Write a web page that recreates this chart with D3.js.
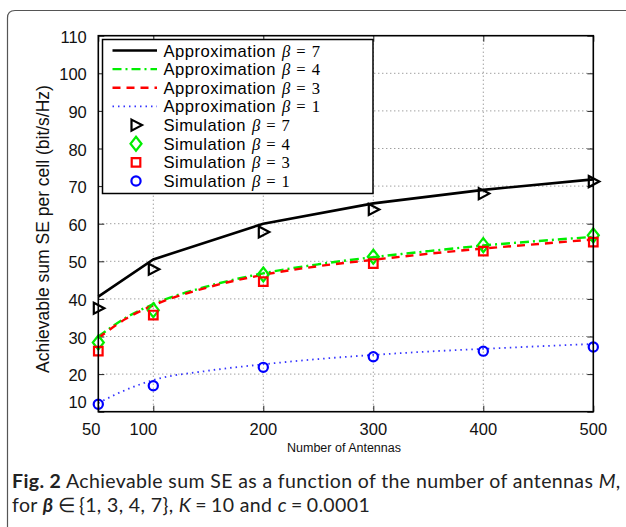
<!DOCTYPE html>
<html>
<head>
<meta charset="utf-8">
<script src="https://cdn.jsdelivr.net/npm/d3@7"></script>
<style>
  body { margin: 0; background: #fff; }
  svg { display: block; }
</style>
</head>
<body>
<svg id="chart" width="626" height="527"></svg>
<script>
// Number of base-station antennas M
const antennas = [50, 100, 200, 300, 400, 500];
const curveAntennas = [50, 75, 100, 150, 200, 250, 300, 350, 400, 450, 500];

// Closed-form approximation of the achievable sum SE per cell (bit/s/Hz)
const approxBeta7 = [40.6, 50.5, 60.0, 65.4, 69.0, 71.8];
const approxBeta4 = [30.0, 35.0, 38.6, 43.4, 46.8, 49.2, 51.1, 52.7, 54.2, 55.4, 56.5];
const approxBeta3 = [29.6, 34.7, 38.3, 43.1, 46.4, 48.7, 50.4, 52.0, 53.4, 54.6, 55.8];
const approxBeta1 = [12.3, 15.8, 18.4, 20.9, 22.6, 24.0, 25.1, 26.0, 26.7, 27.4, 28.0];

// Monte-Carlo simulation results
const simBeta7 = [37.5, 47.9, 57.8, 63.8, 68.0, 71.2];
const simBeta4 = [28.4, 37.0, 46.5, 51.2, 54.3, 56.9];
const simBeta3 = [26.1, 35.7, 44.6, 49.4, 52.7, 55.1];
const simBeta1 = [12.0, 16.9, 21.8, 24.6, 26.1, 27.2];

const xTicks = [50, 100, 200, 300, 400, 500];
const yTicks = [10, 20, 30, 40, 50, 60, 70, 80, 90, 100, 110];

const approxLabels = ["7", "4", "3", "1"];
const simLabels = ["7", "4", "3", "1"];

const svg = d3.select("#chart");

// Outer figure frame with a rounded top-left corner
svg.append("path")
  .attr("d", "M7.5,527 L7.5,18 Q7.5,10.5 15,10.5 L626,10.5")
  .attr("fill", "none").attr("stroke", "#555").attr("stroke-width", 1.2);

const pLeft = 98.3, pRight = 593.3, pTop = 35.7, pBottom = 411.7;
const x = d3.scaleLinear().domain([50, 500]).range([pLeft, pRight]);
const y = d3.scaleLinear().domain([10, 110]).range([pBottom, pTop]);

const tickFont = "'Liberation Sans', Arial, sans-serif";
const mathFont = "'Liberation Serif', 'DejaVu Serif', serif";

// Dotted grid
const grid = svg.append("g").attr("stroke", "#777").attr("stroke-width", 1)
  .attr("stroke-dasharray", "1,3");
grid.selectAll(".gx").data(xTicks.slice(1, -1)).join("line")
  .attr("x1", d => x(d)).attr("x2", d => x(d)).attr("y1", pTop).attr("y2", pBottom);
grid.selectAll(".gy").data(yTicks.slice(1, -1)).join("line")
  .attr("y1", d => y(d)).attr("y2", d => y(d)).attr("x1", pLeft).attr("x2", pRight);

// Axes: ticks point inward, mirrored on the opposite sides
const xAxisB = d3.axisBottom(x).tickValues(xTicks).tickSizeInner(-6).tickSizeOuter(0).tickFormat("");
const xAxisT = d3.axisTop(x).tickValues(xTicks).tickSizeInner(-6).tickSizeOuter(0).tickFormat("");
const yAxisL = d3.axisLeft(y).tickValues(yTicks).tickSizeInner(-6).tickSizeOuter(0).tickFormat("");
const yAxisR = d3.axisRight(y).tickValues(yTicks).tickSizeInner(-6).tickSizeOuter(0).tickFormat("");
[
  [xAxisB, `translate(0,${pBottom})`],
  [xAxisT, `translate(0,${pTop})`],
  [yAxisL, `translate(${pLeft},0)`],
  [yAxisR, `translate(${pRight},0)`]
].forEach(([ax, tr]) => {
  const g = svg.append("g").attr("transform", tr).call(ax);
  g.select(".domain").remove();
  g.selectAll(".tick line").attr("stroke", "#222").attr("stroke-width", 1);
});

// Tick labels (the corner labels are pushed apart slightly)
const xNudge = {50: -7, 100: -10};
svg.append("g").selectAll("text").data(xTicks).join("text")
  .attr("x", d => x(d) + (xNudge[d] || 0)).attr("y", pBottom + 23)
  .attr("text-anchor", "middle")
  .attr("font-family", tickFont).attr("font-size", 16.5).attr("fill", "#111")
  .text(d => d);
svg.append("g").selectAll("text").data(yTicks).join("text")
  .attr("x", pLeft - 11.5).attr("y", d => y(d) + (d === yTicks[0] ? -3.5 : 7))
  .attr("text-anchor", "end")
  .attr("font-family", tickFont).attr("font-size", 16.5).attr("fill", "#111")
  .text(d => d);

// Axis titles
svg.append("text")
  .attr("x", 344).attr("y", 452).attr("text-anchor", "middle")
  .attr("font-family", tickFont).attr("font-size", 12.5).attr("fill", "#111")
  .text("Number of Antennas");
svg.append("text")
  .attr("transform", "translate(49,229) rotate(-90)").attr("text-anchor", "middle")
  .attr("font-family", tickFont).attr("font-size", 17.5).attr("fill", "#111")
  .text("Achievable sum SE per cell (bit/s/Hz)");

// Approximation curves
const line = (xs, ys, curve) => d3.line()
  .x((d, i) => x(xs[i])).y(d => y(d)).curve(curve)(ys);

const approxStyles = [
  {data: approxBeta7, xs: antennas, color: "#000", dash: null, w: 2.6, curve: d3.curveLinear},
  {data: approxBeta4, xs: curveAntennas, color: "#00ee00", dash: "9,4,2,4", w: 2.4, curve: d3.curveMonotoneX},
  {data: approxBeta3, xs: curveAntennas, color: "#ff0000", dash: "8,6", w: 2.4, curve: d3.curveMonotoneX},
  {data: approxBeta1, xs: curveAntennas, color: "#3333ff", dash: "1.5,4", w: 1.8, curve: d3.curveMonotoneX}
];
approxStyles.forEach(s => {
  svg.append("path").attr("d", line(s.xs, s.data, s.curve))
    .attr("fill", "none").attr("stroke", s.color).attr("stroke-width", s.w)
    .attr("stroke-dasharray", s.dash);
});

// Marker shapes
const markerPath = {
  tri: "M-4.5,-5.5 L6,0 L-4.5,5.5 Z",
  diamond: "M0,-7 L5.5,0 L0,7 L-5.5,0 Z",
  square: "M-4.3,-4.3 H4.3 V4.3 H-4.3 Z"
};
function drawMarker(g, kind, color, cx, cy) {
  if (kind === "circle") {
    g.append("circle").attr("cx", cx).attr("cy", cy).attr("r", 4.6)
      .attr("fill", "none").attr("stroke", color).attr("stroke-width", 2.2);
  } else {
    g.append("path").attr("d", markerPath[kind])
      .attr("transform", `translate(${cx},${cy})`)
      .attr("fill", "none").attr("stroke", color).attr("stroke-width", 2.2)
      .attr("stroke-linejoin", "miter");
  }
}

const simStyles = [
  {data: simBeta7, kind: "tri", color: "#000"},
  {data: simBeta4, kind: "diamond", color: "#00ee00"},
  {data: simBeta3, kind: "square", color: "#ff0000"},
  {data: simBeta1, kind: "circle", color: "#0000ff"}
];
const marks = svg.append("g");
simStyles.forEach(s => {
  s.data.forEach((v, i) => drawMarker(marks, s.kind, s.color, x(antennas[i]), y(v)));
});

// Plot box
svg.append("rect").attr("x", pLeft).attr("y", pTop)
  .attr("width", pRight - pLeft).attr("height", pBottom - pTop)
  .attr("fill", "none").attr("stroke", "#000").attr("stroke-width", 1.6);

// Legend
const lg = svg.append("g");
lg.append("rect").attr("x", 102.5).attr("y", 39.5).attr("width", 270.5).attr("height", 154)
  .attr("fill", "#fff").attr("stroke", "#000").attr("stroke-width", 1.5);
const rowY = i => 50.5 + i * 18.65;
function legendText(i, word, beta) {
  const t = lg.append("text").attr("x", 163.5).attr("y", rowY(i) + 6)
    .attr("font-family", tickFont).attr("font-size", 16.6).attr("fill", "#000");
  t.append("tspan").attr("letter-spacing", 0.5).text(word);
  t.append("tspan").attr("dx", 6).attr("font-family", mathFont)
    .attr("font-style", "italic").text("β");
  t.append("tspan").attr("dx", 6).attr("font-family", mathFont).text("=");
  t.append("tspan").attr("dx", 6).attr("font-family", mathFont).text(beta);
}
approxStyles.forEach((s, i) => {
  lg.append("line").attr("x1", 112.5).attr("x2", 157).attr("y1", rowY(i)).attr("y2", rowY(i))
    .attr("stroke", s.color).attr("stroke-width", s.w).attr("stroke-dasharray", s.dash);
  legendText(i, "Approximation", approxLabels[i]);
});
simStyles.forEach((s, i) => {
  drawMarker(lg, s.kind, s.color, 136, rowY(i + 4));
  legendText(i + 4, "Simulation", simLabels[i]);
});

// Figure caption, first line spread to the full text width
const capFont = "Lato, 'Open Sans', sans-serif";
const capSize = 19.5;
const cap1 = svg.append("text").attr("x", 12).attr("y", 488)
  .attr("font-family", capFont).attr("font-size", capSize).attr("fill", "#222");
cap1.append("tspan").attr("font-weight", "bold").text("Fig. 2");
cap1.append("tspan").text(" Achievable sum SE as a function of the number of antennas ");
cap1.append("tspan").attr("font-style", "italic").text("M");
cap1.append("tspan").text(",");
const capWidth = 609;
const capChars = cap1.text().length;
const extra = (capWidth - cap1.node().getComputedTextLength()) / capChars;
cap1.attr("letter-spacing", extra);

const cap2 = svg.append("text").attr("x", 12).attr("y", 512)
  .attr("font-family", capFont).attr("font-size", capSize).attr("fill", "#222")
  .attr("letter-spacing", extra);
cap2.append("tspan").text("for ");
cap2.append("tspan").attr("font-style", "italic").attr("font-weight", "bold").text("β");
cap2.append("tspan").attr("dx", 4).text("∈");
cap2.append("tspan").attr("dx", 4).text("{1, 3, 4, 7}, ");
cap2.append("tspan").attr("font-style", "italic").text("K");
cap2.append("tspan").attr("dx", 4).text("=");
cap2.append("tspan").attr("dx", 4).text("10 and ");
cap2.append("tspan").attr("font-style", "italic").text("c");
cap2.append("tspan").attr("dx", 4).text("=");
cap2.append("tspan").attr("dx", 4).text("0.0001");
</script>
</body>
</html>
